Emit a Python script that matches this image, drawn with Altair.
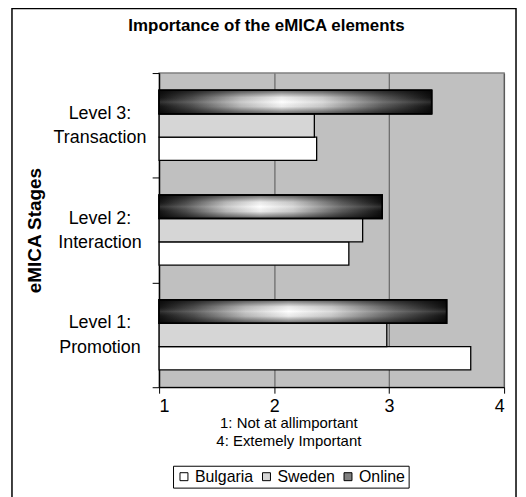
import altair as alt
import pandas as pd

stages = ["Level 3:\nTransaction", "Level 2:\nInteraction", "Level 1:\nPromotion"]
series = ["Bulgaria", "Sweden", "Online"]
bulgaria = [2.37, 2.65, 3.71]
sweden = [2.35, 2.77, 2.98]
online = [3.37, 2.94, 3.50]
x_ticks = [1, 2, 3, 4]
x_title = ["1: Not at allimportant", "4: Extemely Important"]
title_text = "Importance of the eMICA elements"

rows = []
for i, s in enumerate(stages):
    for name, vals in zip(series, [bulgaria, sweden, online]):
        rows.append({"stage": s, "series": name, "value": vals[i], "base": 1})
df = pd.DataFrame(rows)

offset_order = ["Online", "Sweden", "Bulgaria"]

y_enc = alt.Y(
    "stage:N",
    sort=stages,
    scale=alt.Scale(domain=stages, paddingInner=0, paddingOuter=0),
    axis=alt.Axis(
        title="eMICA Stages",
        titleFontSize=19,
        titleFontWeight="bold",
        titleX=-125,
        titleY=158,
        titleBaseline="middle",
        tickBand="extent",
        tickSize=7,
        labelExpr="split(datum.label, '\\n')",
        labelAlign="center",
        labelBaseline="middle",
        labelPadding=53,
        labelOffset=-12,
        labelFontSize=18,
        labelLineHeight=24.5,
        grid=False,
    ),
)
yoff_enc = alt.YOffset(
    "series:N",
    sort=offset_order,
    scale=alt.Scale(domain=offset_order, paddingInner=0, paddingOuter=0.74),
)
x_enc = alt.X(
    "value:Q",
    scale=alt.Scale(domain=[1, 4], nice=False, zero=False),
    axis=alt.Axis(
        values=x_ticks,
        format="d",
        grid=True,
        gridColor="#555555",
        gridWidth=1,
        tickSize=6,
        labelFontSize=18,
        labelPadding=4,
        title=x_title,
        titleFontSize=15,
        titleFontWeight="normal",
        titleX=130,
        titleY=29,
        titleBaseline="top",
        titleLineHeight=18,
    ),
)

base = alt.Chart(df)

bars = base.mark_bar(stroke="black", strokeWidth=1.3).encode(
    y=y_enc,
    yOffset=yoff_enc,
    x=x_enc,
    x2="base:Q",
    color=alt.Color(
        "series:N",
        scale=alt.Scale(domain=series, range=["#ffffff", "#d6d6d6", "#808080"]),
        legend=alt.Legend(
            title=None,
            orient="none",
            legendX=14,
            legendY=395,
            direction="horizontal",
            strokeColor="black",
            fillColor="white",
            padding=3,
            symbolType="square",
            symbolSize=64,
            symbolStrokeColor="black",
            symbolStrokeWidth=1,
            labelFontSize=16,
            labelOffset=3,
            columnPadding=5,
        ),
    ),
)

h_grad = alt.LinearGradient(
    gradient="linear",
    x1=0, y1=0, x2=1, y2=0,
    stops=[
        alt.GradientStop(offset=0, color="#151515"),
        alt.GradientStop(offset=0.12, color="#505050"),
        alt.GradientStop(offset=0.3, color="#c4c4c4"),
        alt.GradientStop(offset=0.45, color="#ffffff"),
        alt.GradientStop(offset=0.6, color="#d6d6d6"),
        alt.GradientStop(offset=0.82, color="#5e5e5e"),
        alt.GradientStop(offset=1, color="#101010"),
    ],
)
v_grad = alt.LinearGradient(
    gradient="linear",
    x1=0, y1=0, x2=0, y2=1,
    stops=[
        alt.GradientStop(offset=0, color="rgba(0,0,0,0.6)"),
        alt.GradientStop(offset=0.3, color="rgba(0,0,0,0.08)"),
        alt.GradientStop(offset=0.5, color="rgba(255,255,255,0.12)"),
        alt.GradientStop(offset=0.7, color="rgba(0,0,0,0.08)"),
        alt.GradientStop(offset=1, color="rgba(0,0,0,0.6)"),
    ],
)

online_df = base.transform_filter(alt.datum.series == "Online")

online_layer = online_df.mark_bar(fill=h_grad, stroke="black", strokeWidth=1.5).encode(
    y=y_enc, yOffset=yoff_enc, x=x_enc, x2="base:Q"
)
online_shade = online_df.mark_bar(fill=v_grad, strokeWidth=0).encode(
    y=y_enc, yOffset=yoff_enc, x=x_enc, x2="base:Q"
)
online_edge = online_df.mark_bar(fillOpacity=0, stroke="black", strokeWidth=1.5).encode(
    y=y_enc, yOffset=yoff_enc, x=x_enc, x2="base:Q"
)

deco = alt.Chart(pd.DataFrame({"label": [title_text]}))

title_mark = deco.mark_text(
    fontSize=17, fontWeight="bold", color="black", align="center", baseline="middle",
    font="Liberation Sans",
).encode(x=alt.value(108), y=alt.value(-47), text="label:N")

border = deco.mark_rect(fill="transparent", stroke="black", strokeWidth=1.5).encode(
    x=alt.value(-148), x2=alt.value(359), y=alt.value(-65), y2=alt.value(440)
)

chart = (
    alt.layer(bars, online_layer, online_shade, online_edge, border, title_mark)
    .properties(
        width=347,
        height=316,
        padding={"left": 152, "top": 64, "right": 14, "bottom": 110},
        autosize=alt.AutoSizeParams(type="none"),
    )
    .configure(font="Liberation Sans")
    .configure_view(fill="#c0c0c0", stroke="#808080", strokeWidth=1.5)
    .configure_axis(
        domainColor="black",
        tickColor="black",
        labelColor="black",
        titleColor="black",
        labelFont="Liberation Sans",
        titleFont="Liberation Sans",
        domainWidth=1.2,
    )
    .configure_legend(labelFont="Liberation Sans", labelColor="black")
)

chart.save("out.html", embed_options={"renderer": "svg", "actions": False})
